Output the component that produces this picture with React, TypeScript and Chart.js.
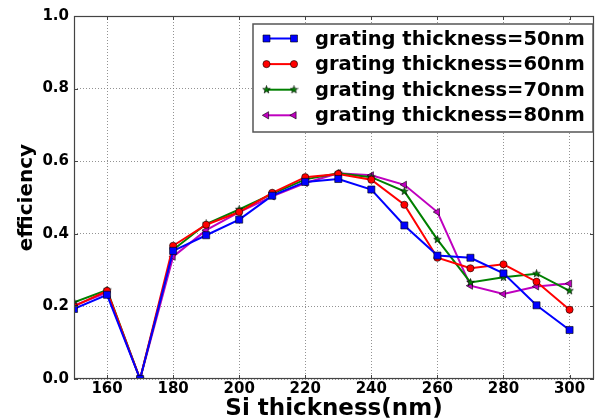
import React, { useEffect, useRef } from 'react';
import { Chart, registerables } from 'chart.js';

Chart.register(...registerables);

const siThickness = [150, 160, 170, 180, 190, 200, 210, 220, 230, 240, 250, 260, 270, 280, 290, 300];
const eff50nm = [0.193, 0.232, 0.0, 0.353, 0.396, 0.439, 0.505, 0.543, 0.551, 0.522, 0.423, 0.340, 0.334, 0.291, 0.203, 0.135];
const eff60nm = [0.200, 0.243, 0.0, 0.367, 0.425, 0.460, 0.513, 0.556, 0.565, 0.549, 0.480, 0.334, 0.305, 0.316, 0.268, 0.191];
const eff70nm = [0.211, 0.245, 0.0, 0.356, 0.427, 0.467, 0.510, 0.550, 0.567, 0.556, 0.517, 0.384, 0.266, 0.280, 0.290, 0.243];
const eff80nm = [0.202, 0.238, 0.0, 0.337, 0.410, 0.460, 0.503, 0.540, 0.567, 0.561, 0.535, 0.460, 0.257, 0.234, 0.255, 0.263];

const seriesLabels = [
  'grating thickness=50nm',
  'grating thickness=60nm',
  'grating thickness=70nm',
  'grating thickness=80nm',
];
const seriesColors = ['#0000ff', '#ff0000', '#008000', '#bf00bf'];
const xTicks = [160, 180, 200, 220, 240, 260, 280, 300];
const yTicks = [0.0, 0.2, 0.4, 0.6, 0.8, 1.0];

const FONT = '"DejaVu Sans", sans-serif';

function makeStar(size: number, fill: string): HTMLCanvasElement {
  const c = document.createElement('canvas');
  c.width = size;
  c.height = size;
  const ctx = c.getContext('2d')!;
  const cx = size / 2;
  const cy = size / 2;
  const R = size / 2 - 0.5;
  const r = R * 0.42;
  ctx.beginPath();
  for (let i = 0; i < 10; i++) {
    const a = -Math.PI / 2 + (i * Math.PI) / 5;
    const rr = i % 2 ? r : R;
    ctx.lineTo(cx + rr * Math.cos(a), cy + rr * Math.sin(a));
  }
  ctx.closePath();
  ctx.fillStyle = fill;
  ctx.fill();
  ctx.lineWidth = 0.6;
  ctx.strokeStyle = '#000';
  ctx.stroke();
  return c;
}

function drawMarker(ctx: CanvasRenderingContext2D, style: any, x: number, y: number, color: string) {
  ctx.save();
  ctx.fillStyle = color;
  ctx.strokeStyle = '#000';
  ctx.lineWidth = 0.6;
  if (style instanceof HTMLCanvasElement) {
    ctx.drawImage(style, x - style.width / 2, y - style.height / 2);
  } else if (style === 'rect') {
    ctx.beginPath();
    ctx.rect(x - 3.5, y - 3.5, 7, 7);
    ctx.fill();
    ctx.stroke();
  } else if (style === 'circle') {
    ctx.beginPath();
    ctx.arc(x, y, 3.6, 0, Math.PI * 2);
    ctx.fill();
    ctx.stroke();
  } else if (style === 'triangle') {
    const r = 4.2;
    ctx.beginPath();
    ctx.moveTo(x - r, y);
    ctx.lineTo(x + r * 0.5, y - r * 0.866);
    ctx.lineTo(x + r * 0.5, y + r * 0.866);
    ctx.closePath();
    ctx.fill();
    ctx.stroke();
  }
  ctx.restore();
}

export default function App() {
  const ref = useRef<HTMLCanvasElement | null>(null);

  useEffect(() => {
    if (!ref.current) return;
    const star = makeStar(9, seriesColors[2]);
    const styles: any[] = ['rect', 'circle', star, 'triangle'];
    const radii = [5, 3.6, 4.5, 4.2];
    const rotations = [0, 0, 0, -90];
    const allSeries = [eff50nm, eff60nm, eff70nm, eff80nm];

    const datasets = allSeries.map((vals, i) => ({
      label: seriesLabels[i],
      data: siThickness.map((x, j) => ({ x, y: vals[j] })),
      borderColor: seriesColors[i],
      backgroundColor: seriesColors[i],
      borderWidth: 2,
      pointStyle: styles[i],
      pointRadius: radii[i],
      pointRotation: rotations[i],
      pointBorderColor: '#000',
      pointBorderWidth: 0.6,
      pointBackgroundColor: seriesColors[i],
      tension: 0,
    }));

    const framePlugin = {
      id: 'frame',
      afterDatasetsDraw(chart: any) {
        const { ctx, chartArea: a, scales } = chart;
        ctx.save();
        ctx.strokeStyle = '#444';
        ctx.lineWidth = 1;
        ctx.beginPath();
        xTicks.forEach((v) => {
          const px = Math.round(scales.x.getPixelForValue(v)) + 0.5;
          ctx.moveTo(px, a.top);
          ctx.lineTo(px, a.top + 4);
          ctx.moveTo(px, a.bottom);
          ctx.lineTo(px, a.bottom - 4);
        });
        yTicks.forEach((v) => {
          const py = Math.round(scales.y.getPixelForValue(v)) + 0.5;
          ctx.moveTo(a.left, py);
          ctx.lineTo(a.left + 4, py);
          ctx.moveTo(a.right, py);
          ctx.lineTo(a.right - 4, py);
        });
        ctx.stroke();
        ctx.lineWidth = 1.2;
        ctx.strokeRect(a.left + 0.5, a.top + 0.5, a.right - a.left - 1, a.bottom - a.top - 1);
        ctx.restore();
      },
    };

    const legendPlugin = {
      id: 'insideLegend',
      afterDraw(chart: any) {
        const { ctx, chartArea: a } = chart;
        const w = 340;
        const h = 108;
        const x0 = a.right - 1 - w;
        const y0 = a.top + 8;
        ctx.save();
        ctx.fillStyle = '#fff';
        ctx.fillRect(x0, y0, w, h);
        ctx.strokeStyle = '#555';
        ctx.lineWidth = 1.5;
        ctx.strokeRect(x0, y0, w, h);
        chart.data.datasets.forEach((ds: any, i: number) => {
          const y = y0 + 14.5 + i * 25.6;
          const l1 = x0 + 13.5;
          const l2 = x0 + 41;
          ctx.strokeStyle = ds.borderColor;
          ctx.lineWidth = 2;
          ctx.beginPath();
          ctx.moveTo(l1, y);
          ctx.lineTo(l2, y);
          ctx.stroke();
          drawMarker(ctx, styles[i], l1, y, ds.borderColor);
          drawMarker(ctx, styles[i], l2, y, ds.borderColor);
          ctx.fillStyle = '#000';
          ctx.font = `bold 19.5px ${FONT}`;
          ctx.textBaseline = 'middle';
          ctx.textAlign = 'left';
          ctx.fillText(ds.label, x0 + 62, y + 1);
        });
        ctx.restore();
      },
    };

    const chart = new Chart(ref.current, {
      type: 'line',
      data: { datasets: datasets as any },
      options: {
        animation: false,
        responsive: false,
        maintainAspectRatio: false,
        layout: { autoPadding: false, padding: { top: 16, right: 1, left: 0, bottom: 0 } },
        plugins: { legend: { display: false }, tooltip: { enabled: false } },
        scales: {
          x: {
            type: 'linear',
            min: 150,
            max: 307.4,
            afterFit: (s: any) => {
              s.height = 39;
              s.paddingLeft = 0;
              s.paddingRight = 0;
            },
            afterBuildTicks: (s: any) => {
              s.ticks = xTicks.map((v) => ({ value: v }));
            },
            grid: { color: '#777', lineWidth: 0.8, drawTicks: false },
            border: { display: false, dash: [1, 2] },
            ticks: {
              padding: 1,
              color: '#000',
              font: { family: FONT, size: 15, weight: 'bold' },
              maxRotation: 0,
              autoSkip: false,
            },
            title: {
              display: true,
              text: 'Si thickness(nm)',
              color: '#000',
              font: { family: FONT, size: 23, weight: 'bold', lineHeight: 0.75 },
              padding: 0,
            },
          },
          y: {
            type: 'linear',
            min: 0,
            max: 1,
            afterFit: (s: any) => {
              s.width = 74;
              s.paddingTop = 0;
              s.paddingBottom = 0;
            },
            afterBuildTicks: (s: any) => {
              s.ticks = yTicks.map((v) => ({ value: v }));
            },
            grid: { color: '#777', lineWidth: 0.8, drawTicks: false },
            border: { display: false, dash: [1, 2] },
            ticks: {
              padding: 5,
              color: '#000',
              font: { family: FONT, size: 15, weight: 'bold' },
              callback: (v: any) => Number(v).toFixed(1),
            },
            title: {
              display: true,
              text: 'efficiency',
              color: '#000',
              font: { family: FONT, size: 20, weight: 'bold', lineHeight: 1 },
              padding: { top: 17, bottom: 0 },
            },
          },
        },
      },
      plugins: [framePlugin, legendPlugin],
    });

    return () => chart.destroy();
  }, []);

  return (
    <div style={{ position: 'fixed', left: 0, top: 0, width: 595, height: 418, background: '#fff' }}>
      <canvas ref={ref} width={595} height={418} style={{ width: 595, height: 418 }} />
    </div>
  );
}
